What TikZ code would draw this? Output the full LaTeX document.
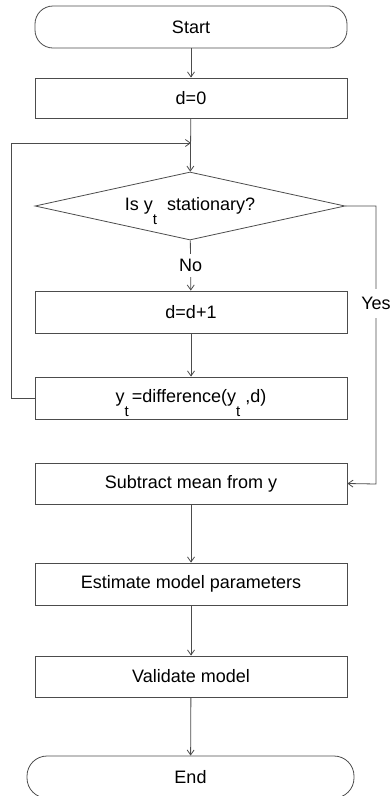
\documentclass[tikz,border=0pt]{standalone}
\usepackage{fontspec}
\setmainfont{Liberation Sans}
\usetikzlibrary{arrows.meta,shapes.geometric}
\newcommand{\lowt}{\smash{\raisebox{-14pt}{\fontsize{15}{15}\selectfont t}}}
\begin{document}
\begin{tikzpicture}[x=1pt,y=-1pt,>={Straight Barb[length=5pt,width=7pt]},
    every node/.style={font=\fontsize{18}{20}\selectfont},
    line/.style={draw=black!70,line width=0.8pt},
    procbox/.style={line,rectangle,minimum width=312pt,minimum height=42pt,inner sep=0pt},
    termbox/.style={line,rectangle,rounded corners=18pt,minimum height=42pt,inner sep=0pt},
    testbox/.style={line,diamond,aspect=4.5,minimum width=310pt,minimum height=68pt,inner sep=0pt},
    flowlabel/.style={fill=white}]
    \useasboundingbox (0,0) rectangle (390,796);

    \node[termbox,minimum width=312pt] (start) at (191,27) {Start};
    \node[procbox,minimum height=40pt] (dzero) at (191,98) {d=0};
    \node[testbox] (stat) at (190,206) {Is y\lowt\ \ stationary?};
    \node[procbox] (dinc) at (191,312) {d=d+1};
    \node[procbox] (diff) at (191,398) {y\lowt\,=difference(y\lowt\ ,d)};
    \node[procbox,minimum height=41pt] (submean) at (191,483.5) {Subtract mean from y};
    \node[procbox] (estim) at (191,584) {Estimate model parameters};
    \node[procbox,minimum height=41pt] (valid) at (191,676.5) {Validate model};
    \node[termbox,minimum width=327pt,rounded corners=20pt] (end) at (190.5,777) {End};

    \coordinate (join) at (191,143);
    \coordinate (yestop) at (376,206);
    \coordinate (yesbot) at (376,484);

    \draw[line,->] (start) -- (dzero);
    \draw[line,->] (dzero) -- (stat);
    \draw[line,->] (stat) -- node[flowlabel,inner sep=5.5pt]{No} (dinc);
    \draw[line,->] (dinc) -- (diff);
    \draw[line,->] (diff.west) -- ++(-23,0) |- (join);
    \draw[line,->] (stat.east) -- (yestop) -- node[flowlabel,pos=0.35,inner sep=8pt]{Yes} (yesbot) -- (submean.east);
    \draw[line,->] (submean) -- (estim);
    \draw[line,->] (estim) -- (valid);
    \draw[line,->] (valid) -- (end);
  \end{tikzpicture}
\end{document}
